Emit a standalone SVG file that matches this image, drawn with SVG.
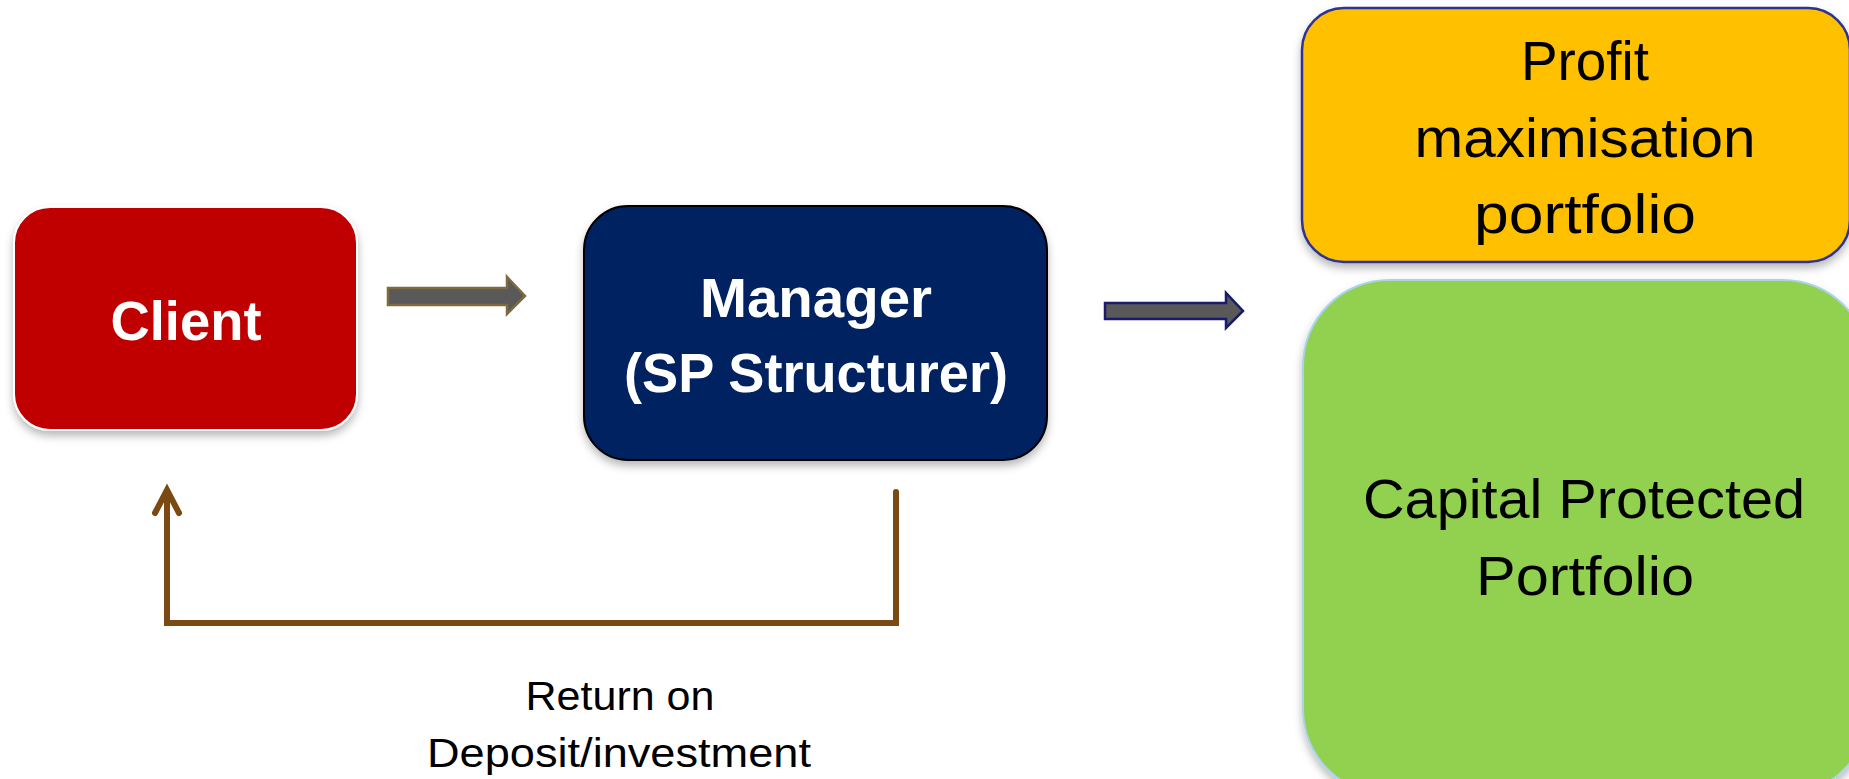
<svg xmlns="http://www.w3.org/2000/svg" width="1849" height="779" viewBox="0 0 1849 779">
  <defs>
    <filter id="shadow" x="-10%" y="-10%" width="120%" height="130%">
      <feDropShadow dx="0" dy="5" stdDeviation="4" flood-color="#000" flood-opacity="0.28"/>
    </filter>
    <style>
      .bold { font-family: "Liberation Sans", Arial, sans-serif; font-weight: bold; fill: #fff; font-size: 56px; text-anchor: middle; }
      .reg { font-family: "Liberation Sans", Arial, sans-serif; fill: #000; font-size: 56px; text-anchor: middle; }
      .lbl { font-family: "Liberation Sans", Arial, sans-serif; fill: #000; font-size: 41px; text-anchor: middle; }
      .block { fill: #595959; stroke-width: 2.5; stroke-linejoin: miter; }
      .loop { fill: none; stroke: #7A4A12; stroke-width: 6; stroke-linecap: round; stroke-linejoin: miter; }
    </style>
  </defs>
  <rect width="1849" height="779" fill="#fff"/>

  <!-- Client -->
  <g id="client">
    <rect x="14" y="207" width="343" height="223" rx="36" fill="#C00000" stroke="#fff" stroke-width="2" filter="url(#shadow)"/>
    <text class="bold" x="186" y="340" textLength="151" lengthAdjust="spacingAndGlyphs">Client</text>
  </g>

  <!-- Manager -->
  <g id="manager">
    <rect x="584" y="206" width="463" height="254" rx="44" fill="#002060" stroke="#000" stroke-width="2" filter="url(#shadow)"/>
    <text class="bold" x="816" y="317" textLength="232" lengthAdjust="spacingAndGlyphs">Manager</text>
    <text class="bold" x="816" y="392" textLength="384" lengthAdjust="spacingAndGlyphs">(SP Structurer)</text>
  </g>

  <!-- Profit maximisation portfolio -->
  <g id="profit">
    <rect x="1302" y="8" width="548" height="254" rx="42" fill="#FFC000" stroke="#2F3192" stroke-width="2.5" filter="url(#shadow)"/>
    <text class="reg" x="1585" y="80" textLength="128" lengthAdjust="spacingAndGlyphs">Profit</text>
    <text class="reg" x="1585" y="157" textLength="341" lengthAdjust="spacingAndGlyphs">maximisation</text>
    <text class="reg" x="1585" y="233" textLength="222" lengthAdjust="spacingAndGlyphs">portfolio</text>
  </g>

  <!-- Capital Protected Portfolio -->
  <g id="capital">
    <rect x="1303" y="280" width="566" height="515" rx="86" fill="#92D050" stroke="#A8D4E8" stroke-width="2" filter="url(#shadow)"/>
    <text class="reg" x="1584" y="518" textLength="442" lengthAdjust="spacingAndGlyphs">Capital Protected</text>
    <text class="reg" x="1585" y="595" textLength="218" lengthAdjust="spacingAndGlyphs">Portfolio</text>
  </g>

  <!-- Connectors -->
  <g id="connectors">
    <!-- Client to Manager -->
    <polygon class="block" stroke="#7F6A3F" points="388,288 507,288 507,277 525,296 507,314 507,305 388,305"/>
    <!-- Manager to portfolios -->
    <polygon class="block" stroke="#1A1A6E" points="1105,303 1226,303 1226,293 1243,311 1226,328 1226,319 1105,319"/>
    <!-- Return loop from Manager back to Client -->
    <path class="loop" d="M896,492 V623 H167 V492"/>
    <polyline class="loop" points="155,513 167,490 179,513"/>
    <text class="lbl" x="620" y="710" textLength="189" lengthAdjust="spacingAndGlyphs">Return on</text>
    <text class="lbl" x="619" y="767" textLength="384" lengthAdjust="spacingAndGlyphs">Deposit/investment</text>
  </g>
</svg>
